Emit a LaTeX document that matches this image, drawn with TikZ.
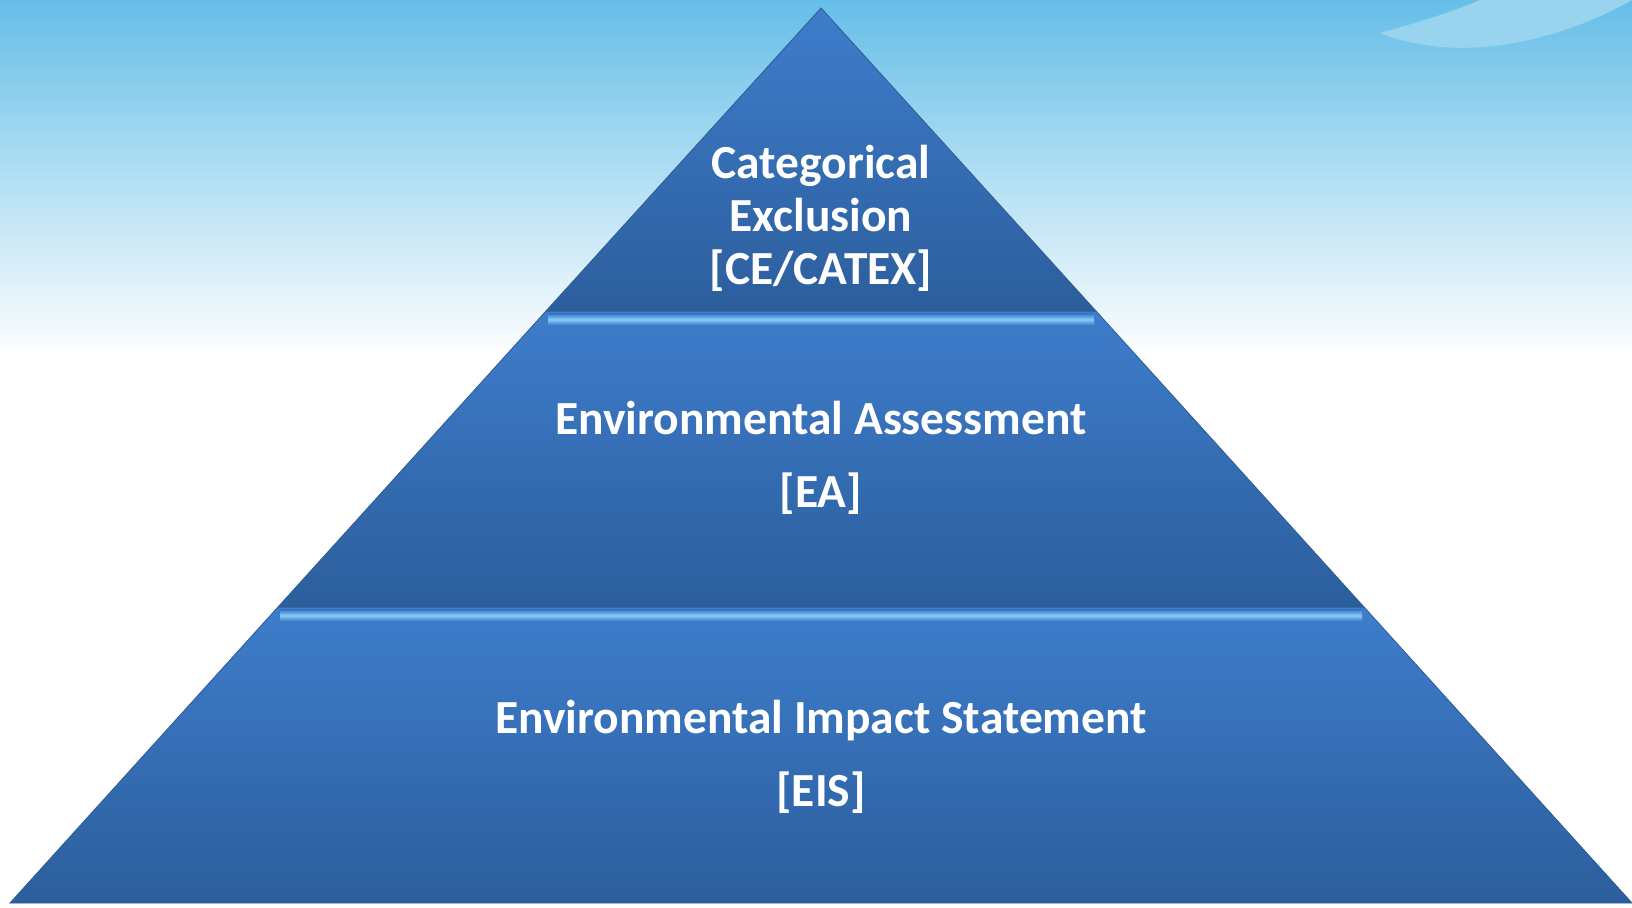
\documentclass[tikz,border=0pt]{standalone}
\usepackage{fontspec}
\setmainfont{Carlito}
\definecolor{skytop}{RGB}{102,190,232}
\definecolor{tiertop}{RGB}{62,125,204}
\definecolor{tierbot}{RGB}{44,94,156}
\definecolor{tierline}{RGB}{46,92,146}
\definecolor{bevel}{RGB}{135,205,248}
\definecolor{cloud}{RGB}{152,212,238}
\usetikzlibrary{positioning}

\begin{document}
\begin{tikzpicture}[x=1pt, y=1pt,
    tier/.style={top color=tiertop, bottom color=tierbot, draw=tierline, line width=0.8pt},
    bevelband/.style={top color=tiertop, bottom color=tiertop, middle color=bevel},
    tiertext/.style={text=white, font=\fontsize{47.5}{53}\selectfont\bfseries, align=center},
  ]
    \useasboundingbox (0,0) rectangle (1632,907);

    % sky
    \fill[white] (0,0) rectangle (1632,907);
    \shade[top color=skytop, bottom color=white] (0,550) rectangle (1632,907);
    \fill[cloud] (1380,874) .. controls (1420,885) and (1455,896) .. (1480,907)
      -- (1632,907) .. controls (1560,866) and (1460,842) .. (1380,874) -- cycle;

    % pyramid
    \shade[tier] (10,4) -- (1632,4) -- (1364,300) -- (278,300) -- cycle;
    \shade[tier] (278,300) -- (1364,300) -- (1096,596) -- (546,596) -- cycle;
    \shade[tier] (546,596) -- (1096,596) -- (821,899) -- cycle;
    \shade[bevelband] (280,286) rectangle (1362,297);
    \shade[bevelband] (548,582) rectangle (1094,593);

    \node[tiertext] (ce)  at (821,689)   {Categorical\\Exclusion\\{}[CE/CATEX]};
    \node[tiertext] (ea)  at (821,449.5) {Environmental Assessment\\[20pt]{}[EA]};
    \node[tiertext] (eis) at (821,150.5) {Environmental Impact Statement\\[20pt]{}[EIS]};
  \end{tikzpicture}
\end{document}
